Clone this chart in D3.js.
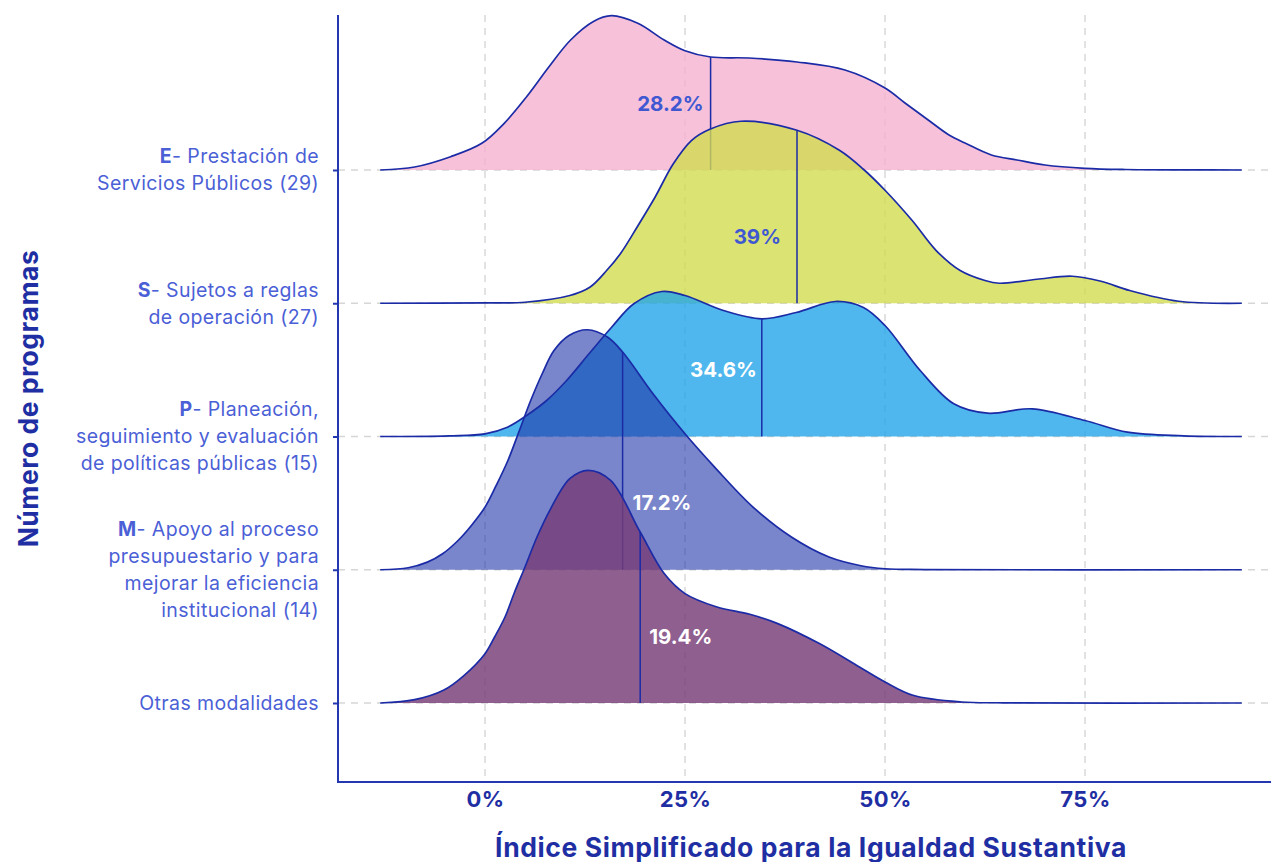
<!DOCTYPE html>
<html>
<head>
<meta charset="utf-8">
<script src="https://cdn.jsdelivr.net/npm/d3@7"></script>
<style>
  html, body { margin: 0; padding: 0; background: #fff; }
  svg { display: block; font-family: Inter, "Noto Sans", sans-serif; }
</style>
</head>
<body>
<svg id="chart" width="1271" height="862"></svg>
<script>
// categories, top to bottom
var categories = ["E", "S", "P", "M", "Otras"];
var labelCodes = ["E", "S", "P", "M", ""];
var labelLines = [
    ["- Prestación de", "Servicios Públicos (29)"],
    ["- Sujetos a reglas", "de operación (27)"],
    ["- Planeación,", "seguimiento y evaluación", "de políticas públicas (15)"],
    ["- Apoyo al proceso", "presupuestario y para", "mejorar la eficiencia", "institucional (14)"],
    ["Otras modalidades"]
];

// medians (% of index)
var medians = [28.2, 39, 34.6, 17.2, 19.4];
var medianLabels = ["28.2%", "39%", "34.6%", "17.2%", "19.4%"];

// density curves (x in %, relative density)
var xE = [-13.1, -8.8, -4.3, -0.4, 2.4, 5.2, 8, 10.7, 13.5, 15.8, 19.1, 22.4, 25, 28.2, 33, 39, 45, 50, 52.5, 55.4, 58, 60, 63.3, 66.5, 70, 75, 80, 88, 94.6];
var dE = [0, 0.03, 0.133, 0.267, 0.467, 0.733, 1.033, 1.30, 1.483, 1.543, 1.467, 1.30, 1.193, 1.13, 1.12, 1.08, 1.00, 0.82, 0.67, 0.50, 0.35, 0.27, 0.15, 0.10, 0.05, 0.017, 0.005, 0.001, 0];

var xS = [-13.1, 0, 5, 10.6, 13.1, 15.2, 16.9, 19, 21.25, 23.5, 25.8, 28.1, 32, 39, 44.3, 47.3, 50, 53.4, 56.4, 59.4, 62.5, 64.3, 69, 73.4, 77, 80.6, 86.7, 94.6];
var dS = [0, 0.003, 0.01, 0.077, 0.16, 0.327, 0.493, 0.76, 1.06, 1.39, 1.627, 1.74, 1.82, 1.73, 1.53, 1.34, 1.13, 0.827, 0.527, 0.327, 0.227, 0.20, 0.24, 0.27, 0.22, 0.127, 0.02, 0];

var xP = [-13.1, -4.5, 0, 2.8, 5.2, 7.7, 10.2, 13, 15.8, 18.6, 22.1, 25, 29.8, 34.6, 38.9, 43.8, 47.3, 50, 54.4, 58.6, 62.8, 68.4, 75, 80.3, 87.3, 94.6];
var dP = [0, 0.007, 0.027, 0.093, 0.21, 0.36, 0.56, 0.827, 1.09, 1.327, 1.45, 1.41, 1.26, 1.177, 1.24, 1.35, 1.29, 1.11, 0.66, 0.327, 0.233, 0.277, 0.16, 0.043, 0.007, 0];

var xM = [-13.1, -9.6, -7.2, -5.3, -3.4, -1.7, 0, 1.4, 2.85, 4.3, 5.7, 7.15, 8.6, 10.5, 12.8, 15.3, 17.2, 21, 25, 28.7, 33.5, 38.3, 43, 47, 50, 55, 94.6];
var dM = [0, 0.02, 0.076, 0.16, 0.29, 0.443, 0.626, 0.843, 1.09, 1.393, 1.69, 1.96, 2.19, 2.343, 2.40, 2.327, 2.177, 1.76, 1.36, 1.027, 0.627, 0.327, 0.127, 0.04, 0.01, 0.002, 0];

var xO = [-13.1, -8.8, -5.2, -2.6, 0, 1.2, 2.5, 3.7, 5, 6.5, 8.1, 10.6, 12.9, 15.7, 19.4, 22.4, 25, 29, 33.1, 36.6, 41.8, 46.8, 50, 53.5, 59.6, 65, 94.6];
var dO = [0, 0.033, 0.127, 0.277, 0.493, 0.66, 0.86, 1.11, 1.36, 1.66, 1.927, 2.244, 2.327, 2.227, 1.71, 1.294, 1.094, 0.96, 0.887, 0.794, 0.594, 0.36, 0.21, 0.077, 0.01, 0.002, 0];

var xTicks = [0, 25, 50, 75];

var series = [
    {x: xE, d: dE, fill: "#f4b2d0", op: 0.8,  text: "#3f58d2", side: "left",  off: 7},
    {x: xS, d: dS, fill: "#d2dc50", op: 0.8,  text: "#3f58d2", side: "left",  off: 16},
    {x: xP, d: dP, fill: "#23a5e8", op: 0.8,  text: "#ffffff", side: "left",  off: 5},
    {x: xM, d: dM, fill: "#1a2ea5", op: 0.58, text: "#ffffff", side: "right", off: 10},
    {x: xO, d: dO, fill: "#763c78", op: 0.82, text: "#ffffff", side: "right", off: 9}
];

var lineColor = "#1b2ba6",
    axisColor = "#2237b0",
    titleColor = "#1f2fa3",
    labelColor = "#4b5fd6",
    gridColor = "#d6d6d6";

var svg = d3.select("#chart");

var pLeft = 338, pRight = 1271, pTop = 15, pBottom = 782;

var x = d3.scaleLinear().domain([0, 75]).range([485, 1085]);
var yRow = d3.scalePoint().domain(categories).range([170, 703]);
var h = d3.scaleLinear().domain([0, 1]).range([0, 100]);

// grid
var grid = svg.append("g");
grid.selectAll(".vg").data(xTicks).enter().append("line")
    .attr("x1", function(d) { return x(d); })
    .attr("x2", function(d) { return x(d); })
    .attr("y1", pTop).attr("y2", pBottom)
    .attr("stroke", gridColor).attr("stroke-width", 1.4)
    .attr("stroke-dasharray", "7,6");
grid.selectAll(".hg").data(categories).enter().append("line")
    .attr("x1", pLeft).attr("x2", pRight)
    .attr("y1", function(d) { return yRow(d); })
    .attr("y2", function(d) { return yRow(d); })
    .attr("stroke", gridColor).attr("stroke-width", 1.4)
    .attr("stroke-dasharray", "7,6");

// ridges, top row first so lower rows sit on top
series.forEach(function(s, i) {
    var base = yRow(categories[i]);
    var pts = s.x.map(function(v, j) { return [v, s.d[j]]; });
    var curve = d3.curveCatmullRom.alpha(0.5);

    var area = d3.area()
        .x(function(p) { return x(p[0]); })
        .y0(base)
        .y1(function(p) { return base - h(p[1]); })
        .curve(curve);
    var line = d3.line()
        .x(function(p) { return x(p[0]); })
        .y(function(p) { return base - h(p[1]); })
        .curve(curve);

    var g = svg.append("g");
    g.append("path").datum(pts)
        .attr("d", area)
        .attr("fill", s.fill)
        .attr("fill-opacity", s.op);
    g.append("path").datum(pts)
        .attr("d", line)
        .attr("fill", "none")
        .attr("stroke", lineColor)
        .attr("stroke-width", 1.7);

    // median line up to the curve
    var m = medians[i];
    var k = d3.bisectLeft(s.x, m);
    var dm;
    if (s.x[k] === m) {
        dm = s.d[k];
    } else {
        var t = (m - s.x[k - 1]) / (s.x[k] - s.x[k - 1]);
        dm = s.d[k - 1] + t * (s.d[k] - s.d[k - 1]);
    }
    g.append("line")
        .attr("x1", x(m)).attr("x2", x(m))
        .attr("y1", base).attr("y2", base - h(dm))
        .attr("stroke", lineColor).attr("stroke-width", 1.5);

    g.append("text")
        .attr("x", s.side === "left" ? x(m) - s.off : x(m) + s.off)
        .attr("y", base - yRow.step() / 2)
        .attr("dy", "0.35em")
        .attr("text-anchor", s.side === "left" ? "end" : "start")
        .attr("fill", s.text)
        .attr("font-size", 20.5)
        .attr("font-weight", 700)
        .text(medianLabels[i]);
});

// axes lines
svg.append("line")
    .attr("x1", pLeft).attr("x2", pLeft)
    .attr("y1", pTop).attr("y2", pBottom)
    .attr("stroke", axisColor).attr("stroke-width", 2);
svg.append("line")
    .attr("x1", pLeft - 1).attr("x2", pRight)
    .attr("y1", pBottom).attr("y2", pBottom)
    .attr("stroke", axisColor).attr("stroke-width", 2);

// left ticks
var yAxis = d3.axisLeft(yRow).tickSize(5).tickFormat("");
var ya = svg.append("g").attr("transform", "translate(" + pLeft + ",0)").call(yAxis);
ya.select(".domain").remove();
ya.selectAll("line").attr("stroke", axisColor).attr("stroke-width", 2);

// bottom tick labels
var xAxis = d3.axisBottom(x).tickValues(xTicks).tickSize(0).tickPadding(9)
    .tickFormat(function(d) { return d + "%"; });
var xa = svg.append("g").attr("transform", "translate(0," + pBottom + ")").call(xAxis);
xa.select(".domain").remove();
xa.selectAll("text")
    .attr("fill", titleColor)
    .attr("font-size", 22)
    .attr("font-weight", 700)
    .attr("letter-spacing", 0.5)
    .attr("font-family", "Inter, sans-serif");

// category labels
var lineH = 27;
categories.forEach(function(c, i) {
    var lines = labelLines[i];
    var y0 = yRow(c) - (lines.length - 1) * lineH / 2;
    var t = svg.append("text")
        .attr("text-anchor", "end")
        .attr("fill", labelColor)
        .attr("font-size", 19.5)
        .attr("letter-spacing", 0.4);
    lines.forEach(function(l, j) {
        var ts = t.append("tspan")
            .attr("x", 319)
            .attr("y", y0 + j * lineH)
            .attr("dy", "0.35em");
        if (j === 0 && labelCodes[i]) {
            ts.append("tspan").attr("font-weight", 700).text(labelCodes[i]);
            ts.append("tspan").text(l);
        } else {
            ts.text(l);
        }
    });
});

// titles
svg.append("text")
    .attr("x", 811)
    .attr("y", 857)
    .attr("text-anchor", "middle")
    .attr("fill", titleColor)
    .attr("font-size", 26.5)
    .attr("font-weight", 700)
    .attr("letter-spacing", 0.6)
    .text("Índice Simplificado para la Igualdad Sustantiva");

svg.append("text")
    .attr("transform", "translate(38," + ((pTop + pBottom) / 2) + ") rotate(-90)")
    .attr("text-anchor", "middle")
    .attr("fill", titleColor)
    .attr("font-size", 26.5)
    .attr("font-weight", 700)
    .attr("letter-spacing", 0.5)
    .text("Número de programas");
</script>
</body>
</html>
